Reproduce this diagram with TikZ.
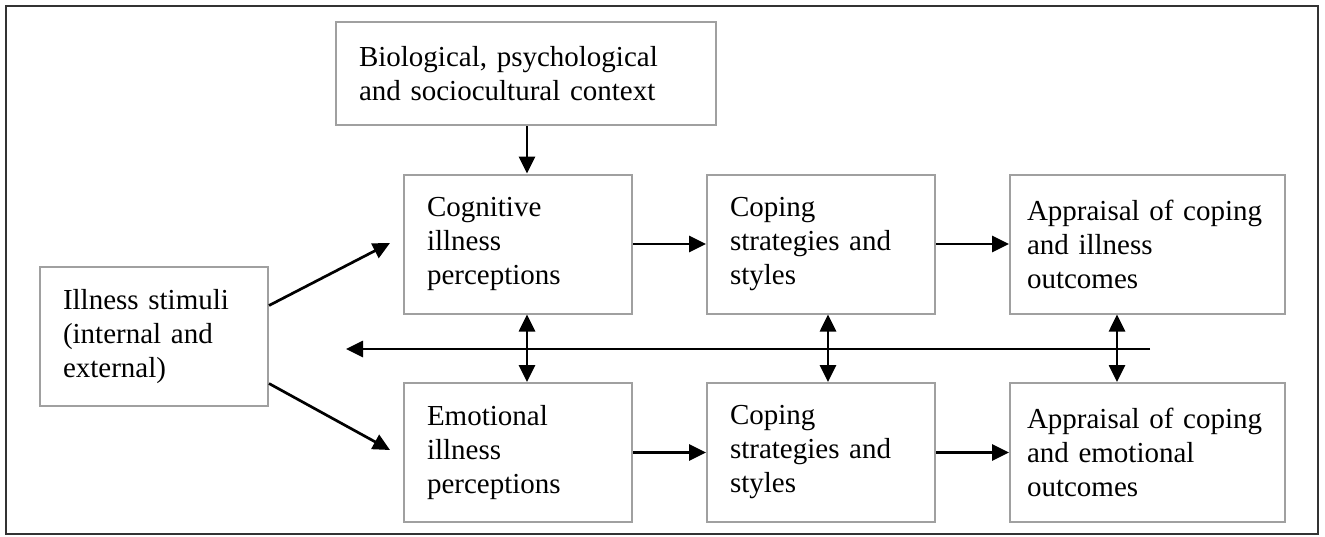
\documentclass[tikz,border=0pt]{standalone}
\usepackage{fontspec}
\setmainfont{Liberation Serif}
\usetikzlibrary{arrows.meta,positioning}
\definecolor{boxline}{HTML}{A0A0A0}
\definecolor{frameline}{HTML}{333333}

\begin{document}
\begin{tikzpicture}[x=1pt, y=-1pt,
  box/.style={draw=boxline, line width=2pt, minimum height=139pt,
              align=left, inner xsep=23pt, text width=182pt,
              font=\fontsize{29}{34}\selectfont},
  arr/.style={-{Triangle[length=17pt, width=16pt]}, line width=2.7pt},
  dbl/.style={{Triangle[length=17pt, width=16pt]}-{Triangle[length=17pt, width=16pt]}, line width=2.7pt}
]
  \useasboundingbox (0,0) rectangle (1325,536);
  \draw[frameline, line width=1.8pt] (6,6) rectangle (1318,534);

  \node[box, minimum height=103pt, text width=334pt] (ctx) at (526,73.5)
    {Biological, psychological\\and sociocultural context};
  \node[box] (stim) at (154,336.5) {Illness stimuli\\(internal and\\external)};
  \node[box] (cog)  at (518,244)   {Cognitive\\illness\\perceptions};
  \node[box] (cop1) at (821,244)   {Coping\\strategies and\\styles};
  \node[box, inner xsep=17pt, text width=241pt] (app1) at (1147.5,244)
    {Appraisal of coping\\and illness\\outcomes};
  \node[box] (emo)  at (518,452.5) {Emotional\\illness\\perceptions};
  \node[box] (cop2) at (821,452.5) {Coping\\strategies and\\styles};
  \node[box, inner xsep=17pt, text width=241pt] (app2) at (1147.5,452.5)
    {Appraisal of coping\\and emotional\\outcomes};

  % helper points
  \coordinate (v1) at (527,0);
  \coordinate (v2) at (828,0);
  \coordinate (v3) at (1117,0);
  \coordinate (fbR) at (1150,349);
  \coordinate (fbL) at (346,349);
  \coordinate (inA) at (390,243);
  \coordinate (inB) at (390,450);

  \draw[arr] (ctx.south -| v1) -- (cog.north -| v1);
  \draw[arr] ([yshift=31pt]stim.east) -- (inA);
  \draw[arr] ([yshift=-47pt]stim.east) -- (inB);

  \draw[arr] (cog)  -- (cop1);
  \draw[arr] (cop1) -- (app1);
  \draw[arr] (emo)  -- (cop2);
  \draw[arr] (cop2) -- (app2);

  \draw[arr] (fbR) -- (fbL);

  \draw[dbl] (cog.south -| v1)  -- (emo.north -| v1);
  \draw[dbl] (cop1.south -| v2) -- (cop2.north -| v2);
  \draw[dbl] (app1.south -| v3) -- (app2.north -| v3);
\end{tikzpicture}
\end{document}
